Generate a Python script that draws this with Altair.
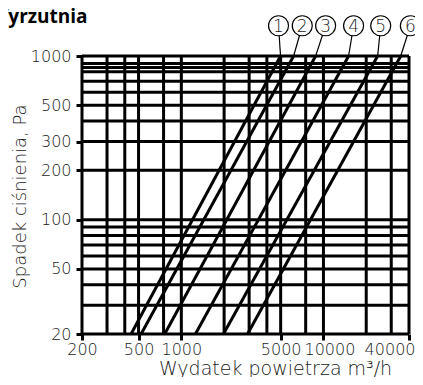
import altair as alt
import pandas as pd

# grid values (heavy black grid of the chart)
x_grid = [200, 300, 400, 500, 750, 1000, 2000, 3000, 4000, 5000, 7500, 10000, 20000, 30000, 40000]
y_grid = [20, 30, 40, 50, 60, 70, 80, 90, 100, 200, 300, 400, 500, 600, 700, 800, 850, 900, 1000]
x_ticks = [200, 500, 1000, 5000, 10000, 40000]
y_ticks = [20, 50, 100, 200, 300, 500, 1000]

# six curves: flow at 20 Pa and at 1000 Pa
curve_ids = ["1", "2", "3", "4", "5", "6"]
q_at_20 = [443, 521, 764, 1257, 1979, 2923]
q_at_1000 = [4990, 6170, 8810, 15030, 24070, 34990]
p_low = 20
p_high = 1000

# circled labels above the plot
label_q = [4830, 7095, 10360, 16300, 25300, 40900]
label_p = 1531

heading = ["Wyrzutnia"]

FONT = "DejaVu Sans"
TXT = "#1a1a1a"

xs = alt.Scale(type="log", domain=[200, 40000], nice=False)
ys = alt.Scale(type="log", domain=[20, 1000], nice=False)

xgrid_df = pd.DataFrame({"q": x_grid})
ygrid_df = pd.DataFrame({"p": y_grid})

rows = []
for cid, a, b in zip(curve_ids, q_at_20, q_at_1000):
    rows.append({"curve": cid, "q": a, "p": p_low})
    rows.append({"curve": cid, "q": b, "p": p_high})
lines_df = pd.DataFrame(rows)

lab_df = pd.DataFrame({
    "curve": curve_ids,
    "lq": label_q,
    "lp": [label_p] * 6,
    "tq": q_at_1000,
    "tp": [p_high] * 6,
})

x_axis = alt.Axis(
    values=x_ticks, format="d", labelFontSize=16, labelFont=FONT, labelFontWeight=200,
    labelColor=TXT, tickSize=6, tickWidth=3, tickColor="black", domain=False, grid=False,
    labelPadding=1, labelFlush=False,
    labelAlign={"condition": {"test": "datum.value == 40000", "value": "right"}, "value": "center"},
    labelOffset={"condition": {"test": "datum.value >= 10000", "value": 6}, "value": 0},
    title="Wydatek powietrza m³/h", titleFontSize=19, titleFont=FONT,
    titleFontWeight=200, titleColor=TXT, titleX=193, titleY=34,
    titleAlign="center", titleBaseline="middle",
)
y_axis = alt.Axis(
    values=y_ticks, format="d", labelFontSize=16, labelFont=FONT, labelFontWeight=200,
    labelColor=TXT, tickSize=6, tickWidth=3, tickColor="black", domain=False, grid=False,
    labelPadding=5, labelFlush=False,
    title="Spadek ciśnienia, Pa", titleFontSize=18, titleFont=FONT,
    titleFontWeight=200, titleColor=TXT, titleX=-62, titleY=140,
    titleAlign="center", titleBaseline="middle",
)

vgrid = alt.Chart(xgrid_df).mark_rule(strokeWidth=3, color="black").encode(
    x=alt.X("q:Q", scale=xs, axis=x_axis)
)
hgrid = alt.Chart(ygrid_df).mark_rule(strokeWidth=3, color="black").encode(
    y=alt.Y("p:Q", scale=ys, axis=y_axis)
)
curves = alt.Chart(lines_df).mark_line(strokeWidth=3, color="black").encode(
    x=alt.X("q:Q", scale=xs), y=alt.Y("p:Q", scale=ys), detail="curve:N"
)
leaders = alt.Chart(lab_df).mark_rule(strokeWidth=1.2, color="black").encode(
    x=alt.X("lq:Q", scale=xs), y=alt.Y("lp:Q", scale=ys), x2="tq:Q", y2="tp:Q"
)
circles = alt.Chart(lab_df).mark_point(
    shape="circle", filled=True, fill="white", stroke="black", strokeWidth=1.2, size=400, opacity=1
).encode(x=alt.X("lq:Q", scale=xs), y=alt.Y("lp:Q", scale=ys))
nums = alt.Chart(lab_df).mark_text(
    fontSize=17, font=FONT, fontWeight=200, color=TXT, baseline="middle", align="center", dy=1
).encode(x=alt.X("lq:Q", scale=xs), y=alt.Y("lp:Q", scale=ys), text="curve:N")

head = alt.Chart(pd.DataFrame({"t": heading})).mark_text(
    fontSize=19, font="Open Sans", fontWeight="bold", color="black",
    align="left", baseline="alphabetic",
).encode(text="t:N", x=alt.value(-92), y=alt.value(-33))

chart = alt.layer(vgrid, hgrid, curves, leaders, circles, nums, head).properties(
    width=327, height=278,
    autosize=alt.AutoSizeParams(type="none"),
    padding={"left": 74, "top": 48, "right": 6, "bottom": 43},
).configure_view(stroke=None)

chart.save("out.html", embed_options={"renderer": "svg", "actions": False})
